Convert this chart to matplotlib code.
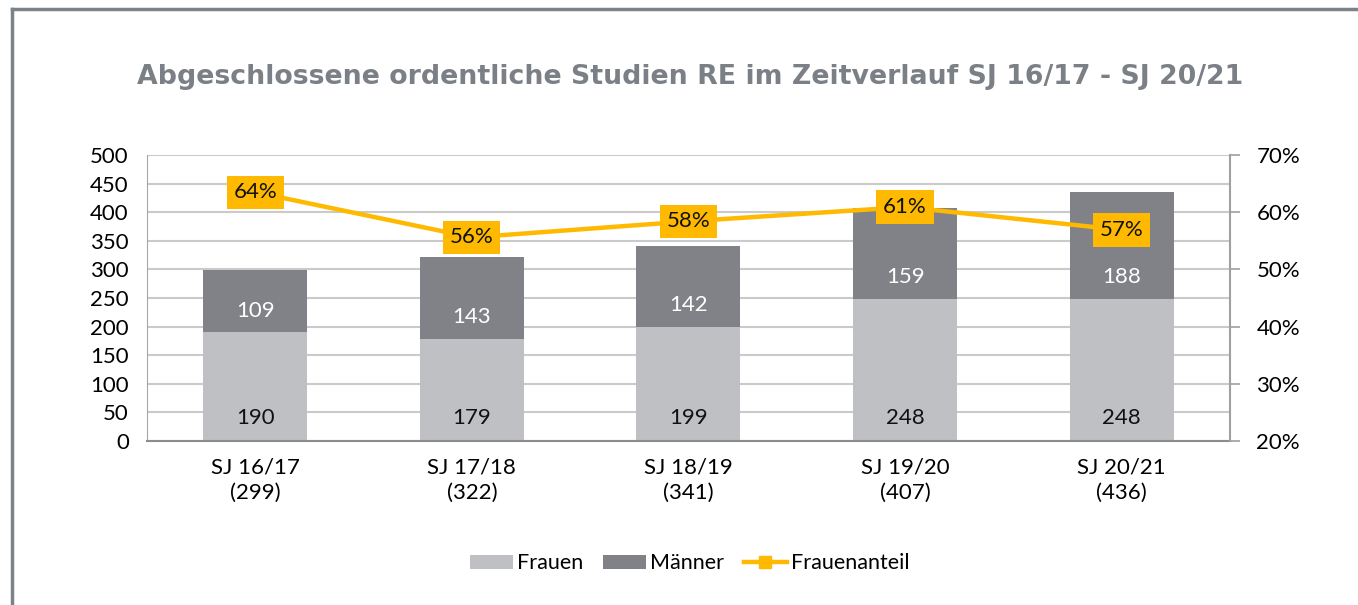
import matplotlib.pyplot as plt
from matplotlib.lines import Line2D
from matplotlib.ticker import FuncFormatter

plt.rcParams['font.family'] = ['Lato', 'DejaVu Sans']

# Daten
categories = ["SJ 16/17\n(299)", "SJ 17/18\n(322)", "SJ 18/19\n(341)", "SJ 19/20\n(407)", "SJ 20/21\n(436)"]
frauen = [190, 179, 199, 248, 248]
maenner = [109, 143, 142, 159, 188]
anteil = [63.5, 55.6, 58.4, 60.9, 56.9]
anteil_labels = ["64%", "56%", "58%", "61%", "57%"]

c_frauen = "#bfc0c3"
c_maenner = "#818287"
c_line = "#ffb900"
c_grid = "#cacaca"

fig = plt.figure(figsize=(13.58, 6.05), dpi=100)
ax = fig.add_axes([0.1082, 0.2711, 0.7975, 0.4727])
ax2 = ax.twinx()

x = list(range(len(categories)))
ax.bar(x, frauen, width=0.48, color=c_frauen, label="Frauen", zorder=2)
ax.bar(x, maenner, width=0.48, bottom=frauen, color=c_maenner, label="Männer", zorder=2)

# Beschriftungen wie im Original: Frauen unten, Männer knapp oberhalb der Grenze
for i in x:
    ax.text(i, 40, str(frauen[i]), ha="center", va="center", fontsize=16, color="#111111", zorder=3)
    ax.text(i, frauen[i] + 38, str(maenner[i]), ha="center", va="center",
            fontsize=16, color="white", zorder=3)

ax.set_xlim(-0.5, len(categories) - 0.5)
ax.set_ylim(0, 500)
ax.set_yticks(range(0, 501, 50))
ax.grid(axis="y", color=c_grid, linewidth=1.5, zorder=0)
ax.set_axisbelow(True)
ax.tick_params(axis="y", length=0, labelsize=16, pad=13)
ax.tick_params(axis="x", length=0, labelsize=16, pad=12)
ax.set_xticks(x)
ax.set_xticklabels(categories, linespacing=1.3)
for side in ["top", "right"]:
    ax.spines[side].set_visible(False)
ax.spines["left"].set_color("#a6a6a6")
ax.spines["bottom"].set_color("#8c8c8c")
ax.spines["bottom"].set_linewidth(1.5)

ax2.plot(x, anteil, color=c_line, linewidth=3.2, marker="s", markersize=8, zorder=4, label="Frauenanteil")
for i in x:
    ax2.text(i, anteil[i], anteil_labels[i], ha="center", va="center", fontsize=16, color="#111111",
             bbox=dict(boxstyle="square,pad=0.3", facecolor=c_line, edgecolor="none"), zorder=5)
ax2.set_ylim(20, 70)
ax2.set_yticks(range(20, 71, 10))
ax2.yaxis.set_major_formatter(FuncFormatter(lambda v, p: f"{int(v)}%"))
ax2.tick_params(axis="y", length=7, color="#a0a0a0", width=1.2, labelsize=16, pad=12)
for side in ["top", "left", "bottom"]:
    ax2.spines[side].set_visible(False)
ax2.spines["right"].set_color("#a0a0a0")
ax2.spines["right"].set_linewidth(1.5)

fig.text(0.508, 0.872, "Abgeschlossene ordentliche Studien RE im Zeitverlauf SJ 16/17 - SJ 20/21",
         ha="center", va="center", fontsize=19.3, fontweight="bold", color="#7b8087",
         family="DejaVu Sans")

h1, l1 = ax.get_legend_handles_labels()
h2, l2 = ax2.get_legend_handles_labels()
fig.legend(h1 + h2, l1 + l2, loc="center", bbox_to_anchor=(0.508, 0.069), ncol=3, frameon=False,
           fontsize=15.5, handlelength=2.0, handleheight=0.6, handletextpad=0.2, columnspacing=0.9)

# Rahmen
fig.add_artist(Line2D([0.009, 1.0], [0.985, 0.985], color="#7b8389", linewidth=2.5, transform=fig.transFigure))
fig.add_artist(Line2D([0.009, 0.009], [0.0, 0.985], color="#7b8389", linewidth=2.5, transform=fig.transFigure))

fig.savefig("out.png", dpi=100)
